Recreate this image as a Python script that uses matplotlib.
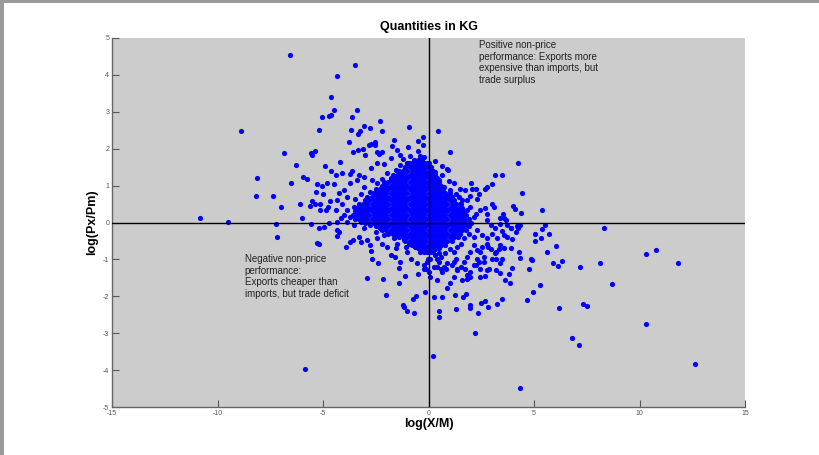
import matplotlib
matplotlib.use('Agg')
import matplotlib.pyplot as plt
import numpy as np
from matplotlib.patches import Rectangle

plt.rcParams['font.family'] = ['Liberation Sans', 'DejaVu Sans']

title = 'Quantities in KG'
x_label = 'log(X/M)'
y_label = 'log(Px/Pm)'
x_ticks = [-15, -10, -5, 0, 5, 10, 15]
y_ticks = [-5, -4, -3, -2, -1, 0, 1, 2, 3, 4, 5]
note_pos = 'Positive non-price\nperformance: Exports more\nexpensive than imports, but\ntrade surplus'
note_neg = 'Negative non-price\nperformance:\nExports cheaper than\nimports, but trade deficit'

# outlying / individually visible points (x, y)
outer_points = [
    (-6.57, 4.53), (-3.46, 4.26), (-4.35, 3.97), (-4.64, 3.40), (-4.50, 3.05), (-4.64, 2.91),
    (-4.71, 2.89), (-5.06, 2.85), (-3.38, 3.04), (-3.62, 2.86), (-2.31, 2.74), (-0.92, 2.59),
    (0.43, 2.49), (-8.88, 2.47), (-5.21, 2.50), (-3.65, 2.50), (-3.24, 2.47), (-3.35, 2.40),
    (-3.05, 2.62), (-2.76, 2.57), (-2.19, 2.48), (-3.79, 2.19), (-3.60, 1.91), (-3.33, 1.96),
    (-3.09, 1.99), (-3.03, 1.84), (-2.83, 2.09), (-2.73, 2.12), (-2.53, 2.17), (-2.53, 2.11),
    (-2.42, 1.91), (-2.34, 1.86), (-2.19, 1.91), (-1.63, 2.23), (-1.74, 2.07), (-1.50, 1.96),
    (-0.96, 2.05), (-0.52, 2.21), (-0.27, 2.31), (-0.25, 2.10), (-0.49, 1.93), (-0.41, 1.80),
    (-0.33, 1.76), (-1.33, 1.82), (-1.23, 1.73), (-0.87, 1.80), (-6.86, 1.88), (-5.58, 1.87),
    (-5.50, 1.82), (-5.36, 1.95), (-6.30, 1.57), (-4.90, 1.53), (-4.20, 1.65), (-8.14, 1.21),
    (-6.51, 1.06), (-5.96, 1.24), (-5.75, 1.19), (-8.17, 0.71), (-7.38, 0.71), (-7.01, 0.43),
    (-6.11, 0.49), (-5.99, 0.12), (-5.62, 0.44), (-10.81, 0.12), (-9.51, 0.02),
    (-5.28, 1.04), (-5.07, 0.99), (-4.80, 1.08), (-5.32, 0.83), (-5.01, 0.77), (-5.51, 0.59),
    (-5.37, 0.51), (-5.12, 0.51), (-4.66, 0.59), (-4.77, 0.42), (-5.15, 0.33), (-4.88, 0.33),
    (-4.39, 0.33), (-4.64, 1.39), (-4.37, 1.30), (-4.09, 1.34), (-3.63, 1.39), (-3.70, 1.31),
    (-3.28, 1.28), (-3.07, 1.24), (-2.73, 1.48), (-2.43, 1.60), (-2.12, 1.58), (-1.80, 1.76),
    (-4.49, 1.04), (-4.25, 0.79), (-4.01, 0.88), (-3.70, 1.06), (-3.38, 1.15), (-3.85, 0.69),
    (-4.09, 0.51), (-4.33, 0.60),
    (1.04, 1.91), (0.33, 1.67), (0.65, 1.53), (0.88, 1.46), (0.93, 1.42), (4.25, 1.60),
    (3.16, 1.28), (3.46, 1.30), (2.99, 1.04), (2.78, 0.97), (2.70, 0.90), (2.02, 1.06),
    (2.23, 0.90), (2.07, 0.92), (4.44, 0.80), (3.03, 0.51), (3.10, 0.42), (4.01, 0.45),
    (4.09, 0.36), (4.38, 0.27), (5.40, 0.35), (3.54, 0.24), (3.60, 0.12), (3.38, 0.11),
    (2.39, 0.77), (2.31, 0.65), (1.99, 0.71), (1.83, 0.60), (1.52, 0.51), (1.99, 0.42),
    (2.46, 0.33), (2.70, 0.38), (2.78, 0.24), (2.23, 0.24), (1.72, 0.88), (1.48, 0.92),
    (1.20, 1.07), (0.96, 1.12), (0.65, 1.28), (0.33, 1.37),
    (-7.25, -0.05), (-5.56, -0.05), (-5.21, -0.16), (-4.96, -0.12), (-4.73, 0.00), (-4.33, 0.02),
    (-7.17, -0.39), (-5.28, -0.55), (-5.18, -0.58), (-4.33, -0.21), (-4.25, -0.25), (-4.36, -0.37),
    (-3.92, -0.67), (-3.70, -0.53), (-3.57, -0.48), (-3.30, -0.39), (-3.22, -0.53), (-2.91, -0.48),
    (-2.75, -0.60), (-2.73, -0.76), (-2.67, -1.00), (-2.40, -1.11), (-2.91, -1.50), (-2.15, -1.52),
    (-1.39, -1.63), (-2.02, -1.96), (-1.11, -1.46), (-0.49, -1.39), (-0.19, -1.27), (-0.16, -1.89),
    (0.25, -2.02), (0.39, -1.56), (-0.73, -2.06), (-0.60, -2.00), (-1.20, -2.24), (-1.14, -2.30),
    (-1.03, -2.40), (-0.70, -2.46), (0.49, -2.40), (0.49, -2.57), (0.20, -3.62), (-5.83, -3.97),
    (-1.80, -0.87), (-1.61, -0.93), (-1.36, -1.07), (-1.41, -1.22), (-0.85, -0.98), (-0.38, -0.80),
    (-0.54, -1.11), (-0.03, -0.98), (0.41, -1.20), (-0.06, -0.70), (-1.96, -0.66), (-1.56, -0.70),
    (-1.09, -0.66), (-1.01, -0.80),
    (8.34, -0.15), (5.50, -0.07), (5.39, -0.18), (5.04, -0.32), (5.34, -0.41), (5.72, -0.32),
    (5.06, -0.51), (6.03, -0.64), (5.63, -0.80), (5.88, -1.09), (6.13, -1.19), (6.32, -1.03),
    (7.17, -1.20), (8.14, -1.11), (10.32, -0.86), (10.76, -0.75), (11.82, -1.11), (8.71, -1.66),
    (7.30, -2.21), (7.52, -2.27), (6.18, -2.33), (10.33, -2.75), (6.81, -3.13), (7.12, -3.31),
    (12.62, -3.83), (4.33, -4.48), (2.19, -2.99), (4.68, -2.11), (4.96, -1.88), (5.27, -1.70),
    (4.77, -1.27), (4.91, -1.02), (4.85, -0.98), (4.36, -0.96), (4.30, -0.80), (4.25, -0.16),
    (4.33, -0.07), (4.16, -0.27), (3.92, -0.15), (3.73, -0.07), (3.73, -0.39), (3.96, -0.46),
    (3.89, -0.70), (3.57, -0.69), (3.41, -0.60), (3.96, -1.23), (3.81, -1.40), (3.85, -1.64),
    (3.62, -1.56), (3.41, -1.38), (2.86, -1.25), (2.62, -1.07), (2.99, -0.98), (3.41, -1.11),
    (3.49, -2.06), (3.26, -2.20), (2.83, -2.29), (2.70, -2.12), (2.50, -2.17), (2.34, -2.45),
    (1.99, -2.24), (1.99, -2.31), (1.31, -2.34), (1.64, -2.02), (1.80, -1.95), (1.25, -1.97),
    (0.66, -2.01), (1.01, -1.64), (0.88, -1.77), (1.99, -1.47), (1.83, -1.52), (2.46, -1.47),
    (2.67, -1.46), (2.23, -1.16), (2.46, -1.25), (3.18, -1.29), (3.21, -0.98), (3.22, -0.79),
    (2.83, -0.66), (2.46, -0.79), (2.31, -0.98), (1.75, -1.25), (1.36, -1.25), (1.20, -1.07),
    (0.65, -1.34), (0.81, -1.25), (0.25, -1.20), (0.41, -0.98), (-0.06, -1.07), (-0.14, -1.25),
    (0.01, -1.34),
]

# points in the crowded ring around the central cloud (x, y)
ring_points = [
    (4.20, -0.09), (3.89, -0.16), (3.65, 0.06), (3.41, -0.03), (3.17, -0.16), (2.94, -0.07),
    (2.78, 0.06), (3.49, -0.23), (3.57, -0.34), (3.25, -0.43), (3.02, -0.30), (2.78, -0.43),
    (2.54, -0.34), (2.31, -0.21), (2.15, -0.39), (1.91, -0.30), (1.67, -0.43), (1.52, -0.57),
    (1.36, -0.66), (1.20, -0.80), (1.04, -0.71), (0.80, -0.84), (0.57, -0.93), (0.33, -0.89),
    (0.09, -0.98), (-0.06, -0.80), (2.78, -0.57), (2.54, -0.66), (2.31, -0.75), (2.15, -0.61),
    (1.99, -0.80), (1.83, -0.93), (1.67, -1.07), (1.52, -1.20), (1.28, -0.98), (1.12, -1.16),
    (0.88, -1.11), (0.73, -1.20), (0.49, -1.07), (2.94, -0.71), (3.17, -0.84), (3.33, -0.71),
    (3.49, -0.98), (2.62, -0.93), (2.38, -1.07), (2.15, -1.16), (1.99, -1.34), (1.83, -1.43),
    (2.78, -1.29), (1.36, -1.29), (1.20, -1.47), (1.59, -1.56), (0.57, -1.25), (0.09, -1.47),
    (-0.22, -1.16),
    (-3.07, 0.97), (-2.75, 0.83), (-2.91, 0.60), (-3.14, 0.42), (-2.59, 0.42), (-2.43, 0.24),
    (-3.38, 0.24), (-3.70, 0.15), (-2.43, 1.06), (-2.20, 1.19), (-1.96, 1.33), (-1.80, 1.15),
    (-1.56, 1.42), (-1.33, 1.55), (-1.17, 1.42), (-0.93, 1.60), (-0.70, 1.51), (-0.54, 1.64),
    (-0.22, 1.58), (-1.49, 1.24), (-2.67, 1.15), (-3.22, 0.78), (-3.46, 0.65), (-3.54, 0.42),
    (-3.86, 0.33), (-4.01, 0.20), (-4.17, 0.11),
    (-0.22, 1.78), (-0.06, 1.60), (-0.30, 1.46), (0.09, 1.51), (-0.14, 1.33), (0.25, 1.24),
    (0.49, 1.15), (0.02, 1.06), (0.73, 0.97), (1.04, 0.87), (1.28, 0.78), (1.12, 0.65),
    (0.88, 0.74), (1.44, 0.70), (1.60, 0.60), (0.57, 0.83), (1.83, 0.33), (1.52, 0.24),
    (1.67, 0.15), (2.15, 0.15),
    (-3.86, 0.02), (-3.54, -0.07), (-3.22, 0.02), (-3.07, -0.16), (-2.75, -0.07), (-2.51, -0.25),
    (-2.28, -0.16), (-2.12, -0.34), (-1.80, -0.25), (-1.64, -0.43), (-1.49, -0.57), (-1.33, -0.34),
    (-1.17, -0.48), (-0.93, -0.57), (-0.77, -0.43), (-0.62, -0.66), (-0.38, -0.52), (-0.22, -0.66),
    (0.09, -0.80), (0.33, -0.71), (0.49, -0.84), (-2.43, -0.43), (-2.20, -0.57),
]

# saturated central cloud: estimated x positions along each y level
core_rows = {
    1.7: [-0.7, -0.5, -0.3],
    1.6: [-1.0, -0.8, -0.6, -0.4, -0.2, 0.0],
    1.5: [-1.1, -0.9, -0.7, -0.5, -0.3, -0.1, 0.1],
    1.4: [-1.4, -1.2, -1.0, -0.8, -0.6, -0.4, -0.2, 0.0, 0.2],
    1.3: [-1.7, -1.5, -1.3, -1.1, -0.9, -0.7, -0.5, -0.3, -0.1, 0.1, 0.3],
    1.2: [-1.8, -1.6, -1.4, -1.2, -1.0, -0.8, -0.6, -0.4, -0.2, 0.0, 0.2, 0.4],
    1.1: [-2.1, -1.9, -1.7, -1.5, -1.3, -1.1, -0.9, -0.7, -0.5, -0.3, -0.1, 0.1, 0.3, 0.5],
    1.0: [-2.2, -2.0, -1.8, -1.6, -1.4, -1.2, -1.0, -0.8, -0.6, -0.4, -0.2, 0.0, 0.2, 0.4, 0.6],
    0.9: [-2.5, -2.3, -2.1, -1.9, -1.7, -1.5, -1.3, -1.1, -0.9, -0.7, -0.5, -0.3, -0.1, 0.1,
          0.3, 0.5, 0.7],
    0.8: [-2.6, -2.4, -2.2, -2.0, -1.8, -1.6, -1.4, -1.2, -1.0, -0.8, -0.6, -0.4, -0.2, 0.0,
          0.2, 0.4, 0.6, 0.8, 1.0],
    0.7: [-2.9, -2.7, -2.5, -2.3, -2.1, -1.9, -1.7, -1.5, -1.3, -1.1, -0.9, -0.7, -0.5, -0.3,
          -0.1, 0.1, 0.3, 0.5, 0.7, 0.9, 1.1],
    0.6: [-3.0, -2.8, -2.6, -2.4, -2.2, -2.0, -1.8, -1.6, -1.4, -1.2, -1.0, -0.8, -0.6, -0.4,
          -0.2, 0.0, 0.2, 0.4, 0.6, 0.8, 1.0, 1.2],
    0.5: [-3.3, -3.1, -2.9, -2.7, -2.5, -2.3, -2.1, -1.9, -1.7, -1.5, -1.3, -1.1, -0.9, -0.7,
          -0.5, -0.3, -0.1, 0.1, 0.3, 0.5, 0.7, 0.9, 1.1, 1.3, 1.5],
    0.4: [-3.4, -3.2, -3.0, -2.8, -2.6, -2.4, -2.2, -2.0, -1.8, -1.6, -1.4, -1.2, -1.0, -0.8,
          -0.6, -0.4, -0.2, 0.0, 0.2, 0.4, 0.6, 0.8, 1.0, 1.2, 1.4, 1.6],
    0.3: [-3.5, -3.3, -3.1, -2.9, -2.7, -2.5, -2.3, -2.1, -1.9, -1.7, -1.5, -1.3, -1.1, -0.9,
          -0.7, -0.5, -0.3, -0.1, 0.1, 0.3, 0.5, 0.7, 0.9, 1.1, 1.3, 1.5, 1.7],
    0.2: [-3.6, -3.4, -3.2, -3.0, -2.8, -2.6, -2.4, -2.2, -2.0, -1.8, -1.6, -1.4, -1.2, -1.0,
          -0.8, -0.6, -0.4, -0.2, 0.0, 0.2, 0.4, 0.6, 0.8, 1.0, 1.2, 1.4, 1.6, 1.8],
    0.1: [-3.5, -3.3, -3.1, -2.9, -2.7, -2.5, -2.3, -2.1, -1.9, -1.7, -1.5, -1.3, -1.1, -0.9,
          -0.7, -0.5, -0.3, -0.1, 0.1, 0.3, 0.5, 0.7, 0.9, 1.1, 1.3, 1.5, 1.7, 1.9],
    0.0: [-3.0, -2.8, -2.6, -2.4, -2.2, -2.0, -1.8, -1.6, -1.4, -1.2, -1.0, -0.8, -0.6, -0.4,
          -0.2, 0.0, 0.2, 0.4, 0.6, 0.8, 1.0, 1.2, 1.4, 1.6, 1.8, 2.0],
    -0.1: [-2.5, -2.3, -2.1, -1.9, -1.7, -1.5, -1.3, -1.1, -0.9, -0.7, -0.5, -0.3, -0.1, 0.1,
           0.3, 0.5, 0.7, 0.9, 1.1, 1.3, 1.5, 1.7, 1.9],
    -0.2: [-2.2, -2.0, -1.8, -1.6, -1.4, -1.2, -1.0, -0.8, -0.6, -0.4, -0.2, 0.0, 0.2, 0.4,
           0.6, 0.8, 1.0, 1.2, 1.4, 1.6, 1.8],
    -0.3: [-1.9, -1.7, -1.5, -1.3, -1.1, -0.9, -0.7, -0.5, -0.3, -0.1, 0.1, 0.3, 0.5, 0.7,
           0.9, 1.1, 1.3, 1.5],
    -0.4: [-1.6, -1.4, -1.2, -1.0, -0.8, -0.6, -0.4, -0.2, 0.0, 0.2, 0.4, 0.6, 0.8, 1.0,
           1.2, 1.4],
    -0.5: [-1.1, -0.9, -0.7, -0.5, -0.3, -0.1, 0.1, 0.3, 0.5, 0.7, 0.9, 1.1],
    -0.6: [-0.8, -0.6, -0.4, -0.2, 0.0, 0.2, 0.4, 0.6, 0.8],
    -0.7: [-0.5, -0.3, -0.1, 0.1, 0.3, 0.5],
    -0.8: [-0.2, 0.0, 0.2],
}

W, H = 819, 455
fig = plt.figure(figsize=(W / 100, H / 100), dpi=100)
fig.patch.set_facecolor('white')

ax = fig.add_axes([112 / W, (H - 407) / H, 633 / W, 369 / H])
ax.set_facecolor('#cccccc')
ax.set_xlim(-15, 15)
ax.set_ylim(-5, 5)
ax.set_xticks(x_ticks)
ax.set_yticks(y_ticks)
ax.set_xticklabels([str(t) for t in x_ticks])
ax.set_yticklabels([str(t) for t in y_ticks])
ax.tick_params(direction='in', length=5, width=0.8, color='#555555',
               labelsize=5, labelcolor='#555555', pad=2)
for s in ['top', 'right']:
    ax.spines[s].set_visible(False)
for s in ['left', 'bottom']:
    ax.spines[s].set_color('#666666')
    ax.spines[s].set_linewidth(1.0)

core_x = []
core_y = []
for yv, xs in core_rows.items():
    core_x.extend(xs)
    core_y.extend([yv] * len(xs))

pts = np.array(outer_points + ring_points)
all_x = np.concatenate([pts[:, 0], np.array(core_x)])
all_y = np.concatenate([pts[:, 1], np.array(core_y)])
ax.scatter(all_x, all_y, s=14, c='#0000ff', linewidths=0, zorder=2)

ax.axvline(0, color='black', lw=1.0, zorder=3)
ax.axhline(0, color='black', lw=1.0, zorder=3)

ax.text(2.37, 4.94, note_pos, fontsize=7, color='#222222', va='top', ha='left',
        linespacing=1.2, zorder=4)
ax.text(-8.71, -0.86, note_neg, fontsize=7, color='#222222', va='top', ha='left',
        linespacing=1.2, zorder=4)

fig.text(428.5 / W, 1 - 27 / H, title, fontsize=9, fontweight='bold',
         ha='center', va='center')
fig.text(428.5 / W, 1 - 424 / H, x_label, fontsize=9, fontweight='bold',
         ha='center', va='center')
fig.text(92 / W, 1 - 222 / H, y_label, fontsize=9, fontweight='bold',
         ha='center', va='center', rotation=90)

# window frame
fig.patches.append(Rectangle((0, 1 - 3 / H), 1, 3 / H, transform=fig.transFigure,
                             facecolor='#9a9a9a', edgecolor='none', zorder=10))
fig.patches.append(Rectangle((0, 0), 4 / W, 1, transform=fig.transFigure,
                             facecolor='#9a9a9a', edgecolor='none', zorder=10))

fig.savefig('out.png', dpi=100, facecolor='white')
